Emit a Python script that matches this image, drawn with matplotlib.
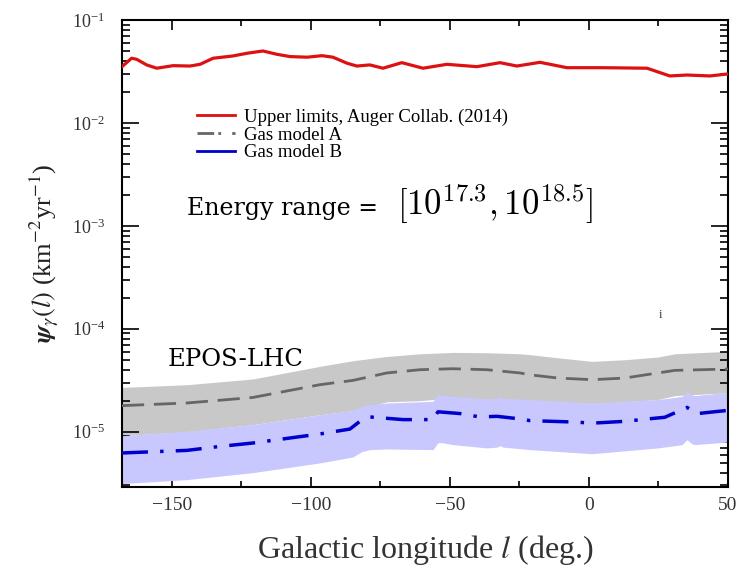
import matplotlib
matplotlib.use("Agg")
import matplotlib.pyplot as plt
from matplotlib.lines import Line2D
from matplotlib.ticker import MultipleLocator, LogLocator, NullFormatter

plt.rcParams['font.family'] = ['Liberation Serif', 'DejaVu Serif']
plt.rcParams['mathtext.fontset'] = 'stix'

# Upper limits, Auger Collab. (2014)
l_red = [-168, -164.5, -162.7, -159.1, -155.5, -149.6, -143.5, -139.9, -135.2, -128.1,
         -123.0, -117.3, -112.2, -107.5, -101.4, -96.0, -92.1, -87.0, -83.5, -78.8,
         -74.1, -67.3, -59.7, -51.1, -40.3, -32.0, -25.9, -17.6, -7.9, 5.0,
         20.9, 29.1, 35.3, 43.5, 50]
psi_red = [0.0352, 0.0425, 0.0415, 0.0366, 0.0340, 0.0360, 0.0357, 0.0371, 0.0425, 0.0447,
           0.0475, 0.0500, 0.0464, 0.0441, 0.0435, 0.0450, 0.0435, 0.0380, 0.0357, 0.0366,
           0.0340, 0.0385, 0.0340, 0.0371, 0.0352, 0.0385, 0.0357, 0.0388, 0.0344, 0.0344,
           0.0340, 0.0286, 0.0292, 0.0286, 0.0299]

# Gas model A
l_a = [-168, -144.6, -120.9, -96.8, -84.9, -72.7, -60.8, -48.9, -36.7, -24.8,
       -21.2, -11.2, 1.1, 12.9, 24.8, 30.9, 50]
a_mid = [1.79e-5, 1.90e-5, 2.15e-5, 2.86e-5, 3.15e-5, 3.72e-5, 4.00e-5, 4.09e-5, 4.00e-5, 3.72e-5,
         3.57e-5, 3.32e-5, 3.20e-5, 3.32e-5, 3.72e-5, 3.94e-5, 4.06e-5]
a_hi = [2.69e-5, 2.86e-5, 3.25e-5, 4.31e-5, 4.89e-5, 5.38e-5, 5.71e-5, 5.89e-5, 5.85e-5, 5.71e-5,
        5.60e-5, 5.22e-5, 4.82e-5, 5.00e-5, 5.31e-5, 5.71e-5, 6.03e-5]
a_lo = [9.14e-6, 1.00e-5, 1.17e-5, 1.46e-5, 1.60e-5, 1.95e-5, 2.00e-5, 2.14e-5, 2.05e-5, 2.00e-5,
        2.00e-5, 1.95e-5, 1.87e-5, 1.95e-5, 2.05e-5, 2.24e-5, 2.39e-5]

# Gas model B band
l_b_band = [-168, -144.6, -120.9, -96.8, -84.9, -81.7, -78.8, -72.7, -56.1, -54.3,
            -52.9, -48.9, -36.7, -33.1, -32.0, -30.9, -21.2, 1.1, 24.8, 33.5,
            35.3, 37.0, 38.1, 50]
b_hi = [9.14e-6, 1.01e-5, 1.17e-5, 1.46e-5, 1.61e-5, 1.75e-5, 1.83e-5, 1.90e-5, 1.97e-5, 2.29e-5,
        2.26e-5, 2.20e-5, 2.08e-5, 2.11e-5, 2.20e-5, 2.11e-5, 2.05e-5, 1.90e-5, 2.05e-5, 2.20e-5,
        2.46e-5, 2.29e-5, 2.24e-5, 2.41e-5]
b_lo = [3.13e-6, 3.42e-6, 4.00e-6, 4.97e-6, 5.68e-6, 6.40e-6, 6.69e-6, 6.79e-6, 6.69e-6, 7.82e-6,
        7.82e-6, 7.48e-6, 6.95e-6, 7.08e-6, 7.31e-6, 7.08e-6, 6.69e-6, 6.11e-6, 6.95e-6, 7.48e-6,
        8.36e-6, 7.64e-6, 7.48e-6, 7.93e-6]

# Gas model B central line
l_b = [-168, -144.6, -132.7, -120.9, -96.8, -86.0, -82.4, -78.8, -66.9, -56.1,
       -54.3, -46.4, -39.2, -33.1, -24.8, -21.2, -5.0, 1.1, 12.9, 21.2,
       27.3, 32.0, 35.3, 39.2, 46.0, 50]
b_mid = [6.21e-6, 6.58e-6, 7.19e-6, 7.76e-6, 9.50e-6, 1.06e-5, 1.26e-5, 1.39e-5, 1.31e-5, 1.31e-5,
         1.56e-5, 1.50e-5, 1.39e-5, 1.41e-5, 1.33e-5, 1.28e-5, 1.24e-5, 1.21e-5, 1.26e-5, 1.33e-5,
         1.38e-5, 1.57e-5, 1.72e-5, 1.50e-5, 1.57e-5, 1.61e-5]

fig = plt.figure(figsize=(7.39, 5.68), dpi=100)
ax = fig.add_axes([0.165, 0.1426, 0.82, 0.8222])

ax.fill_between(l_a, a_lo, a_hi, color='#c8c8c8', lw=0, zorder=1)
ax.fill_between(l_b_band, b_lo, b_hi, color='#c8c8ff', lw=0, zorder=2)
ax.plot(l_a, a_mid, color='#666666', lw=2.0, dashes=(8, 3.5), zorder=3)
ax.plot(l_b, b_mid, color='#0000cc', lw=2.5, dashes=(7.5, 3.5, 1, 3.5), zorder=3)
ax.plot(l_red, psi_red, color='#dd1111', lw=2.3, zorder=4)

ax.set_yscale('log')
ax.set_xlim(-168, 50)
ax.set_ylim(2.9e-6, 1e-1)
ax.xaxis.set_major_locator(MultipleLocator(50))
ax.xaxis.set_minor_locator(MultipleLocator(25))
ax.yaxis.set_major_locator(LogLocator(base=10, numticks=10))
ax.yaxis.set_minor_locator(LogLocator(base=10, subs=range(2, 10), numticks=20))
ax.yaxis.set_minor_formatter(NullFormatter())
ax.tick_params(which='both', direction='in', top=True, right=True,
               labelcolor='#333333', width=1.2)
ax.tick_params(axis='x', which='major', length=7, pad=7, labelsize=14)
ax.tick_params(axis='x', which='minor', length=4)
ax.tick_params(axis='y', which='major', length=12, pad=12, labelsize=13)
ax.tick_params(axis='y', which='minor', length=6)
for s in ax.spines.values():
    s.set_linewidth(1.5)

ax.set_xlabel('Galactic longitude $l$ (deg.)', fontsize=23, color='#333333', labelpad=14)
ax.set_ylabel(r'$\boldsymbol{\psi}_{\gamma}(l)$ (km$^{-2}$yr$^{-1}$)', fontsize=19,
              color='#222222', labelpad=8)

handles = [
    Line2D([], [], color='#dd1111', lw=2.0),
    Line2D([], [], color='#666666', lw=2.0, dashes=(6, 1.5, 1, 4)),
    Line2D([], [], color='#0000cc', lw=2.0),
]
labels = ['Upper limits, Auger Collab. (2014)', 'Gas model A', 'Gas model B']
ax.legend(handles, labels, loc='upper left', bbox_to_anchor=(0.112, 0.826), frameon=False,
          fontsize=13.5, labelspacing=0.02, handlelength=2.0, handletextpad=0.5,
          borderaxespad=0)

fig.text(187 / 739, 1 - 215 / 568, 'Energy range = ', fontsize=17, family='DejaVu Serif',
         va='baseline', ha='left')
fig.text(397 / 739, 1 - 215 / 568, r'$[10^{17.3}, 10^{18.5}]$', fontsize=25,
         math_fontfamily='cm', va='baseline', ha='left')
fig.text(168 / 739, 1 - 366 / 568, 'EPOS-LHC', fontsize=17.5, family='DejaVu Serif',
         va='baseline', ha='left')
fig.text(659 / 739, 1 - 318 / 568, 'i', fontsize=9, color='#333333', va='baseline')

fig.savefig('out.png', dpi=100)
